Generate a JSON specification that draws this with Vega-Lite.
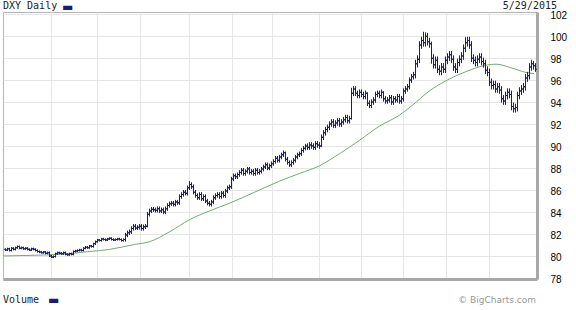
{
"$schema":"https://vega.github.io/schema/vega-lite/v6.json",
"width":534,"height":267,"autosize":"none",
"padding":{"left":3,"top":12,"right":39,"bottom":31},
"background":"white",
"config":{"view":{"stroke":"#b4b4b4","strokeWidth":1},
 "axisX":{"labels":false,"ticks":false,"title":null,"grid":true,"gridColor":"#e6e6e6","domainColor":"#a8a8a8","domainWidth":3,"tickCount":30},
 "axisY":{"ticks":false,"labelPadding":13,"labelFont":"Liberation Sans","labelFontSize":10,"labelColor":"#000","labelFlush":false,"labelOverlap":false,"labelBaseline":"middle","labelOffset":1.5,"grid":true,"gridColor":"#e6e6e6","domainColor":"#a8a8a8","domainWidth":3,"title":null,"tickCount":30}},
"datasets":{
"ohlc":[
{"d":0,"o":80.6,"h":80.7,"l":80.45,"c":80.55},{"d":1,"o":80.55,"h":80.75,"l":80.45,"c":80.65},{"d":2,"o":80.65,"h":80.75,"l":80.4,"c":80.5},{"d":3,"o":80.5,"h":80.8,"l":80.4,"c":80.7},{"d":4,"o":80.7,"h":80.8,"l":80.5,"c":80.6},{"d":5,"o":80.6,"h":80.85,"l":80.5,"c":80.75},{"d":6,"o":80.75,"h":80.95,"l":80.65,"c":80.85},{"d":7,"o":80.85,"h":80.95,"l":80.6,"c":80.7},{"d":8,"o":80.7,"h":80.85,"l":80.6,"c":80.75},{"d":9,"o":80.75,"h":80.85,"l":80.55,"c":80.65},
{"d":10,"o":80.65,"h":80.8,"l":80.55,"c":80.7},{"d":11,"o":80.7,"h":80.8,"l":80.5,"c":80.6},{"d":12,"o":80.6,"h":80.7,"l":80.45,"c":80.55},{"d":13,"o":80.55,"h":80.75,"l":80.45,"c":80.65},{"d":14,"o":80.65,"h":80.75,"l":80.5,"c":80.6},{"d":15,"o":80.6,"h":80.7,"l":80.4,"c":80.5},{"d":16,"o":80.5,"h":80.6,"l":80.3,"c":80.4},{"d":17,"o":80.4,"h":80.5,"l":80.25,"c":80.35},{"d":18,"o":80.35,"h":80.45,"l":80.2,"c":80.3},{"d":19,"o":80.3,"h":80.45,"l":80.2,"c":80.35},
{"d":20,"o":80.35,"h":80.45,"l":80.15,"c":80.25},{"d":21,"o":80.25,"h":80.4,"l":80.15,"c":80.3},{"d":22,"o":80.3,"h":80.4,"l":79.9,"c":80.0},{"d":23,"o":80.0,"h":80.1,"l":79.8,"c":79.9},{"d":24,"o":79.9,"h":80.05,"l":79.8,"c":79.95},{"d":25,"o":79.95,"h":80.3,"l":79.85,"c":80.2},{"d":26,"o":80.2,"h":80.4,"l":80.1,"c":80.3},{"d":27,"o":80.3,"h":80.4,"l":80.15,"c":80.25},{"d":28,"o":80.25,"h":80.35,"l":80.1,"c":80.2},{"d":29,"o":80.2,"h":80.4,"l":80.1,"c":80.3},
{"d":30,"o":80.3,"h":80.4,"l":80.05,"c":80.15},{"d":31,"o":80.15,"h":80.25,"l":80.0,"c":80.1},{"d":32,"o":80.1,"h":80.3,"l":80.0,"c":80.2},{"d":33,"o":80.2,"h":80.3,"l":80.05,"c":80.15},{"d":34,"o":80.15,"h":80.5,"l":80.05,"c":80.4},{"d":35,"o":80.4,"h":80.55,"l":80.3,"c":80.45},{"d":36,"o":80.45,"h":80.6,"l":80.35,"c":80.5},{"d":37,"o":80.5,"h":80.65,"l":80.4,"c":80.55},{"d":38,"o":80.55,"h":80.65,"l":80.4,"c":80.5},{"d":39,"o":80.5,"h":80.8,"l":80.4,"c":80.7},
{"d":40,"o":80.7,"h":80.9,"l":80.6,"c":80.8},{"d":41,"o":80.8,"h":80.9,"l":80.65,"c":80.75},{"d":42,"o":80.75,"h":81.0,"l":80.65,"c":80.9},{"d":43,"o":80.9,"h":81.0,"l":80.75,"c":80.85},{"d":44,"o":80.85,"h":81.2,"l":80.75,"c":81.1},{"d":45,"o":81.1,"h":81.4,"l":81.0,"c":81.3},{"d":46,"o":81.3,"h":81.55,"l":81.2,"c":81.45},{"d":47,"o":81.45,"h":81.55,"l":81.3,"c":81.4},{"d":48,"o":81.4,"h":81.65,"l":81.3,"c":81.55},{"d":49,"o":81.55,"h":81.65,"l":81.4,"c":81.5},
{"d":50,"o":81.5,"h":81.6,"l":81.35,"c":81.45},{"d":51,"o":81.45,"h":81.65,"l":81.35,"c":81.55},{"d":52,"o":81.55,"h":81.7,"l":81.45,"c":81.6},{"d":53,"o":81.6,"h":81.7,"l":81.4,"c":81.5},{"d":54,"o":81.5,"h":81.6,"l":81.35,"c":81.45},{"d":55,"o":81.45,"h":81.6,"l":81.35,"c":81.5},{"d":56,"o":81.5,"h":81.65,"l":81.4,"c":81.55},{"d":57,"o":81.55,"h":81.65,"l":81.4,"c":81.5},{"d":58,"o":81.5,"h":81.6,"l":81.3,"c":81.4},{"d":59,"o":81.4,"h":81.6,"l":81.3,"c":81.5},
{"d":60,"o":81.5,"h":82.1,"l":81.3,"c":81.9},{"d":61,"o":81.9,"h":82.3,"l":81.7,"c":82.1},{"d":62,"o":82.1,"h":82.4,"l":81.9,"c":82.2},{"d":63,"o":82.2,"h":82.7,"l":82.0,"c":82.5},{"d":64,"o":82.5,"h":82.9,"l":82.3,"c":82.7},{"d":65,"o":82.7,"h":82.9,"l":82.35,"c":82.55},{"d":66,"o":82.55,"h":82.8,"l":82.35,"c":82.6},{"d":67,"o":82.6,"h":82.9,"l":82.4,"c":82.7},{"d":68,"o":82.7,"h":82.9,"l":82.3,"c":82.5},{"d":69,"o":82.5,"h":82.85,"l":82.3,"c":82.65},
{"d":70,"o":82.65,"h":82.9,"l":82.45,"c":82.7},{"d":71,"o":82.7,"h":84.0,"l":82.6,"c":83.8},{"d":72,"o":83.8,"h":84.3,"l":83.6,"c":84.1},{"d":73,"o":84.1,"h":84.45,"l":83.9,"c":84.25},{"d":74,"o":84.25,"h":84.45,"l":84.0,"c":84.2},{"d":75,"o":84.2,"h":84.4,"l":83.95,"c":84.15},{"d":76,"o":84.15,"h":84.5,"l":83.95,"c":84.3},{"d":77,"o":84.3,"h":84.5,"l":83.9,"c":84.1},{"d":78,"o":84.1,"h":84.4,"l":83.9,"c":84.2},{"d":79,"o":84.2,"h":84.4,"l":83.8,"c":84.0},
{"d":80,"o":84.0,"h":84.5,"l":83.8,"c":84.3},{"d":81,"o":84.3,"h":84.8,"l":84.1,"c":84.6},{"d":82,"o":84.6,"h":84.95,"l":84.4,"c":84.75},{"d":83,"o":84.75,"h":85.0,"l":84.55,"c":84.8},{"d":84,"o":84.8,"h":85.0,"l":84.5,"c":84.7},{"d":85,"o":84.7,"h":85.1,"l":84.5,"c":84.9},{"d":86,"o":84.9,"h":85.1,"l":84.65,"c":84.85},{"d":87,"o":84.85,"h":85.6,"l":84.65,"c":85.4},{"d":88,"o":85.4,"h":85.8,"l":85.2,"c":85.6},{"d":89,"o":85.6,"h":86.0,"l":85.4,"c":85.8},
{"d":90,"o":85.8,"h":86.0,"l":85.5,"c":85.7},{"d":91,"o":85.7,"h":86.4,"l":85.5,"c":86.2},{"d":92,"o":86.2,"h":86.8,"l":86.0,"c":86.5},{"d":93,"o":86.5,"h":86.7,"l":86.1,"c":86.3},{"d":94,"o":86.3,"h":86.5,"l":85.6,"c":85.8},{"d":95,"o":85.8,"h":86.0,"l":85.3,"c":85.5},{"d":96,"o":85.5,"h":85.7,"l":85.1,"c":85.3},{"d":97,"o":85.3,"h":85.8,"l":85.1,"c":85.6},{"d":98,"o":85.6,"h":85.8,"l":85.0,"c":85.2},{"d":99,"o":85.2,"h":85.6,"l":85.0,"c":85.4},
{"d":100,"o":85.4,"h":85.6,"l":84.8,"c":85.0},{"d":101,"o":85.0,"h":85.2,"l":84.6,"c":84.8},{"d":102,"o":84.8,"h":85.0,"l":84.5,"c":84.7},{"d":103,"o":84.7,"h":85.1,"l":84.5,"c":84.9},{"d":104,"o":84.9,"h":85.5,"l":84.7,"c":85.3},{"d":105,"o":85.3,"h":85.7,"l":85.1,"c":85.5},{"d":106,"o":85.5,"h":85.8,"l":85.3,"c":85.6},{"d":107,"o":85.6,"h":85.8,"l":85.2,"c":85.4},{"d":108,"o":85.4,"h":85.9,"l":85.2,"c":85.7},{"d":109,"o":85.7,"h":85.9,"l":85.3,"c":85.5},
{"d":110,"o":85.5,"h":86.1,"l":85.3,"c":85.9},{"d":111,"o":85.9,"h":86.4,"l":85.7,"c":86.2},{"d":112,"o":86.2,"h":86.5,"l":86.0,"c":86.3},{"d":113,"o":86.3,"h":87.2,"l":86.1,"c":87.0},{"d":114,"o":87.0,"h":87.5,"l":86.8,"c":87.3},{"d":115,"o":87.3,"h":87.5,"l":87.0,"c":87.2},{"d":116,"o":87.2,"h":87.6,"l":87.0,"c":87.4},{"d":117,"o":87.4,"h":87.8,"l":87.2,"c":87.6},{"d":118,"o":87.6,"h":88.0,"l":87.4,"c":87.8},{"d":119,"o":87.8,"h":88.0,"l":87.3,"c":87.5},
{"d":120,"o":87.5,"h":87.9,"l":87.3,"c":87.7},{"d":121,"o":87.7,"h":88.1,"l":87.5,"c":87.9},{"d":122,"o":87.9,"h":88.1,"l":87.4,"c":87.6},{"d":123,"o":87.6,"h":87.9,"l":87.4,"c":87.7},{"d":124,"o":87.7,"h":87.9,"l":87.3,"c":87.5},{"d":125,"o":87.5,"h":88.0,"l":87.3,"c":87.8},{"d":126,"o":87.8,"h":88.0,"l":87.4,"c":87.6},{"d":127,"o":87.6,"h":87.9,"l":87.4,"c":87.7},{"d":128,"o":87.7,"h":88.1,"l":87.5,"c":87.9},{"d":129,"o":87.9,"h":88.3,"l":87.7,"c":88.1},
{"d":130,"o":88.1,"h":88.5,"l":87.9,"c":88.3},{"d":131,"o":88.3,"h":88.5,"l":87.8,"c":88.0},{"d":132,"o":88.0,"h":88.4,"l":87.8,"c":88.2},{"d":133,"o":88.2,"h":88.6,"l":88.0,"c":88.4},{"d":134,"o":88.4,"h":88.8,"l":88.2,"c":88.6},{"d":135,"o":88.6,"h":89.1,"l":88.4,"c":88.9},{"d":136,"o":88.9,"h":89.1,"l":88.5,"c":88.7},{"d":137,"o":88.7,"h":89.2,"l":88.5,"c":89.0},{"d":138,"o":89.0,"h":89.4,"l":88.8,"c":89.2},{"d":139,"o":89.2,"h":89.6,"l":89.0,"c":89.4},
{"d":140,"o":89.4,"h":89.5,"l":88.6,"c":88.8},{"d":141,"o":88.8,"h":89.0,"l":88.3,"c":88.5},{"d":142,"o":88.5,"h":88.7,"l":88.1,"c":88.3},{"d":143,"o":88.3,"h":88.7,"l":88.1,"c":88.5},{"d":144,"o":88.5,"h":88.9,"l":88.3,"c":88.7},{"d":145,"o":88.7,"h":89.2,"l":88.5,"c":89.0},{"d":146,"o":89.0,"h":89.4,"l":88.8,"c":89.2},{"d":147,"o":89.2,"h":89.5,"l":89.0,"c":89.3},{"d":148,"o":89.3,"h":89.8,"l":89.1,"c":89.6},{"d":149,"o":89.6,"h":90.0,"l":89.4,"c":89.8},
{"d":150,"o":89.8,"h":90.2,"l":89.6,"c":90.0},{"d":151,"o":90.0,"h":90.25,"l":89.65,"c":89.9},{"d":152,"o":89.9,"h":90.35,"l":89.65,"c":90.1},{"d":153,"o":90.1,"h":90.35,"l":89.75,"c":90.0},{"d":154,"o":90.0,"h":90.25,"l":89.65,"c":89.9},{"d":155,"o":89.9,"h":90.45,"l":89.65,"c":90.2},{"d":156,"o":90.2,"h":90.45,"l":89.85,"c":90.1},{"d":157,"o":90.1,"h":90.35,"l":89.75,"c":90.0},{"d":158,"o":90.0,"h":91.05,"l":89.9,"c":90.8},{"d":159,"o":90.8,"h":91.45,"l":90.55,"c":91.2},
{"d":160,"o":91.2,"h":91.75,"l":90.95,"c":91.5},{"d":161,"o":91.5,"h":91.95,"l":91.25,"c":91.7},{"d":162,"o":91.7,"h":92.25,"l":91.45,"c":92.0},{"d":163,"o":92.0,"h":92.45,"l":91.75,"c":92.2},{"d":164,"o":92.2,"h":92.45,"l":91.65,"c":91.9},{"d":165,"o":91.9,"h":92.35,"l":91.65,"c":92.1},{"d":166,"o":92.1,"h":92.55,"l":91.85,"c":92.3},{"d":167,"o":92.3,"h":92.55,"l":91.75,"c":92.0},{"d":168,"o":92.0,"h":92.45,"l":91.75,"c":92.2},{"d":169,"o":92.2,"h":92.65,"l":91.95,"c":92.4},
{"d":170,"o":92.4,"h":92.85,"l":92.15,"c":92.6},{"d":171,"o":92.6,"h":92.85,"l":92.05,"c":92.3},{"d":172,"o":92.3,"h":92.75,"l":92.05,"c":92.5},{"d":173,"o":92.5,"h":95.3,"l":92.4,"c":94.8},{"d":174,"o":94.8,"h":95.45,"l":94.55,"c":95.2},{"d":175,"o":95.2,"h":95.45,"l":94.55,"c":94.8},{"d":176,"o":94.8,"h":95.05,"l":94.35,"c":94.6},{"d":177,"o":94.6,"h":95.15,"l":94.35,"c":94.9},{"d":178,"o":94.9,"h":95.15,"l":94.45,"c":94.7},{"d":179,"o":94.7,"h":94.95,"l":94.25,"c":94.5},
{"d":180,"o":94.5,"h":95.05,"l":94.25,"c":94.8},{"d":181,"o":94.8,"h":94.9,"l":93.65,"c":93.9},{"d":182,"o":93.9,"h":94.15,"l":93.45,"c":93.7},{"d":183,"o":93.7,"h":94.25,"l":93.45,"c":94.0},{"d":184,"o":94.0,"h":94.45,"l":93.75,"c":94.2},{"d":185,"o":94.2,"h":94.95,"l":93.95,"c":94.7},{"d":186,"o":94.7,"h":95.05,"l":94.45,"c":94.8},{"d":187,"o":94.8,"h":95.05,"l":94.35,"c":94.6},{"d":188,"o":94.6,"h":95.15,"l":94.35,"c":94.9},{"d":189,"o":94.9,"h":95.0,"l":94.05,"c":94.3},
{"d":190,"o":94.3,"h":94.55,"l":93.85,"c":94.1},{"d":191,"o":94.1,"h":94.45,"l":93.85,"c":94.2},{"d":192,"o":94.2,"h":94.65,"l":93.95,"c":94.4},{"d":193,"o":94.4,"h":94.65,"l":93.75,"c":94.0},{"d":194,"o":94.0,"h":94.55,"l":93.75,"c":94.3},{"d":195,"o":94.3,"h":94.55,"l":93.95,"c":94.2},{"d":196,"o":94.2,"h":94.75,"l":93.95,"c":94.5},{"d":197,"o":94.5,"h":94.75,"l":93.85,"c":94.1},{"d":198,"o":94.1,"h":94.55,"l":93.85,"c":94.3},{"d":199,"o":94.3,"h":95.25,"l":94.05,"c":95.0},
{"d":200,"o":95.0,"h":95.45,"l":94.75,"c":95.2},{"d":201,"o":95.2,"h":95.65,"l":94.95,"c":95.4},{"d":202,"o":95.4,"h":96.25,"l":95.15,"c":96.0},{"d":203,"o":96.0,"h":96.55,"l":95.75,"c":96.3},{"d":204,"o":96.3,"h":96.75,"l":96.05,"c":96.5},{"d":205,"o":96.5,"h":97.85,"l":96.15,"c":97.5},{"d":206,"o":97.5,"h":98.25,"l":97.15,"c":97.9},{"d":207,"o":97.9,"h":99.55,"l":97.55,"c":99.2},{"d":208,"o":99.2,"h":99.95,"l":98.85,"c":99.6},{"d":209,"o":99.6,"h":100.4,"l":99.05,"c":99.4},
{"d":210,"o":99.4,"h":100.35,"l":99.05,"c":100.0},{"d":211,"o":100.0,"h":100.3,"l":99.15,"c":99.5},{"d":212,"o":99.5,"h":99.85,"l":98.95,"c":99.3},{"d":213,"o":99.3,"h":99.5,"l":97.5,"c":98.0},{"d":214,"o":98.0,"h":98.35,"l":97.05,"c":97.4},{"d":215,"o":97.4,"h":98.15,"l":97.05,"c":97.8},{"d":216,"o":97.8,"h":98.15,"l":96.65,"c":97.0},{"d":217,"o":97.0,"h":97.35,"l":96.45,"c":96.8},{"d":218,"o":96.8,"h":97.55,"l":96.45,"c":97.2},{"d":219,"o":97.2,"h":97.55,"l":96.65,"c":97.0},
{"d":220,"o":97.0,"h":98.15,"l":96.65,"c":97.8},{"d":221,"o":97.8,"h":98.45,"l":97.45,"c":98.1},{"d":222,"o":98.1,"h":98.65,"l":97.75,"c":98.3},{"d":223,"o":98.3,"h":98.65,"l":97.55,"c":97.9},{"d":224,"o":97.9,"h":98.25,"l":96.85,"c":97.2},{"d":225,"o":97.2,"h":97.55,"l":96.65,"c":97.0},{"d":226,"o":97.0,"h":97.95,"l":96.65,"c":97.6},{"d":227,"o":97.6,"h":98.25,"l":97.25,"c":97.9},{"d":228,"o":97.9,"h":98.55,"l":97.55,"c":98.2},{"d":229,"o":98.2,"h":99.25,"l":97.85,"c":98.9},
{"d":230,"o":98.9,"h":99.9,"l":98.55,"c":99.4},{"d":231,"o":99.4,"h":99.95,"l":99.05,"c":99.6},{"d":232,"o":99.6,"h":99.95,"l":98.85,"c":99.2},{"d":233,"o":99.2,"h":99.55,"l":97.65,"c":98.0},{"d":234,"o":98.0,"h":98.35,"l":97.45,"c":97.8},{"d":235,"o":97.8,"h":98.15,"l":97.25,"c":97.6},{"d":236,"o":97.6,"h":98.25,"l":97.25,"c":97.9},{"d":237,"o":97.9,"h":98.45,"l":97.55,"c":98.1},{"d":238,"o":98.1,"h":98.45,"l":97.35,"c":97.7},{"d":239,"o":97.7,"h":98.05,"l":97.15,"c":97.5},
{"d":240,"o":97.5,"h":97.85,"l":96.55,"c":96.9},{"d":241,"o":96.9,"h":97.25,"l":96.35,"c":96.7},{"d":242,"o":96.7,"h":97.05,"l":95.45,"c":95.8},{"d":243,"o":95.8,"h":96.15,"l":95.15,"c":95.5},{"d":244,"o":95.5,"h":95.95,"l":95.15,"c":95.6},{"d":245,"o":95.6,"h":95.95,"l":94.85,"c":95.2},{"d":246,"o":95.2,"h":95.75,"l":94.85,"c":95.4},{"d":247,"o":95.4,"h":95.75,"l":94.75,"c":95.1},{"d":248,"o":95.1,"h":95.45,"l":93.95,"c":94.3},{"d":249,"o":94.3,"h":94.65,"l":93.75,"c":94.1},
{"d":250,"o":94.1,"h":94.95,"l":93.75,"c":94.6},{"d":251,"o":94.6,"h":95.25,"l":94.25,"c":94.9},{"d":252,"o":94.9,"h":95.25,"l":94.35,"c":94.7},{"d":253,"o":94.7,"h":95.05,"l":93.25,"c":93.6},{"d":254,"o":93.6,"h":93.95,"l":93.05,"c":93.4},{"d":255,"o":93.4,"h":93.85,"l":93.05,"c":93.5},{"d":256,"o":93.5,"h":94.95,"l":93.15,"c":94.6},{"d":257,"o":94.6,"h":95.35,"l":94.25,"c":95.0},{"d":258,"o":95.0,"h":95.55,"l":94.65,"c":95.2},{"d":259,"o":95.2,"h":95.75,"l":94.85,"c":95.4},
{"d":260,"o":95.4,"h":96.55,"l":95.05,"c":96.2},{"d":261,"o":96.2,"h":96.75,"l":95.85,"c":96.4},{"d":262,"o":96.4,"h":97.55,"l":96.05,"c":97.2},{"d":263,"o":97.2,"h":97.85,"l":96.85,"c":97.5},{"d":264,"o":97.5,"h":97.75,"l":96.95,"c":97.3},{"d":265,"o":97.3,"h":97.55,"l":96.75,"c":97.0}
],
"ma":[
{"d":-1,"v":80.0},{"d":12.5,"v":80.05},{"d":27.4,"v":80.15},{"d":42.4,"v":80.4},{"d":52.4,"v":80.6},{"d":64.9,"v":81.05},{"d":72.4,"v":81.3},{"d":82.3,"v":82.2},{"d":92.3,"v":83.3},{"d":102.3,"v":84.1},{"d":112.3,"v":84.8},{"d":124.8,"v":85.8},{"d":137.2,"v":86.8},{"d":147.2,"v":87.5},{"d":157.2,"v":88.2},{"d":167.2,"v":89.3},{"d":177.1,"v":90.5},{"d":187.1,"v":91.8},{"d":197.1,"v":92.8},{"d":203.6,"v":93.7},{"d":212.1,"v":95.0},{"d":221.1,"v":96.0},{"d":229.5,"v":96.7},{"d":237,"v":97.2},{"d":245.5,"v":97.45},{"d":253.5,"v":97.1},{"d":260.5,"v":96.7},{"d":264.5,"v":96.6}
]
},
"layer":[
{"data":{"name":"ma"},
 "mark":{"type":"line","color":"#78a878","strokeWidth":1,"interpolate":"monotone"},
 "encoding":{
  "x":{"field":"d","type":"quantitative","scale":{"domain":[-1,266],"nice":false,"zero":false},
       "axis":{"values":[23,46,67.5,92,113.5,133.5,157,178,199,220.5,242],"tickCount":30}},
  "y":{"field":"v","type":"quantitative","scale":{"domain":[77.9,102.2],"nice":false,"zero":false},
       "axis":{"orient":"right","values":[78,80,82,84,86,88,90,92,94,96,98,100,102],"labelOverlap":false,"tickCount":30}}
 }},
{"data":{"name":"ohlc"},
 "mark":{"type":"rule","color":"#1b1b78","strokeWidth":1,"xOffset":0.5},
 "encoding":{"x":{"field":"d","type":"quantitative"},"y":{"field":"l","type":"quantitative"},"y2":{"field":"h"}}},
{"data":{"name":"ohlc"},
 "mark":{"type":"tick","orient":"horizontal","size":1,"thickness":1,"xOffset":-0.5,"color":"#1b1b78","opacity":1},
 "encoding":{"x":{"field":"d","type":"quantitative"},"y":{"field":"o","type":"quantitative"}}},
{"data":{"name":"ohlc"},
 "mark":{"type":"tick","orient":"horizontal","size":1,"thickness":1,"xOffset":1.5,"color":"#1b1b78","opacity":1},
 "encoding":{"x":{"field":"d","type":"quantitative"},"y":{"field":"c","type":"quantitative"}}},
{"data":{"values":[{"label":"DXY Daily"}]},
 "mark":{"type":"text","font":"DejaVu Sans Mono","fontSize":10,"align":"left","baseline":"alphabetic","dy":-5.2,"color":"#222"},
 "encoding":{"x":{"datum":-1},"y":{"datum":102},"text":{"field":"label"}}},
{"data":{"values":[{"label":"▬"}]},
 "mark":{"type":"text","font":"DejaVu Sans","fontSize":12,"align":"left","baseline":"middle","dx":59,"dy":-7.2,"color":"#1b1b78"},
 "encoding":{"x":{"datum":-1},"y":{"datum":102},"text":{"field":"label"}}},
{"data":{"values":[{"label":"5/29/2015"}]},
 "mark":{"type":"text","font":"DejaVu Sans Mono","fontSize":10,"align":"right","baseline":"alphabetic","dx":20,"dy":-5.2,"color":"#222"},
 "encoding":{"x":{"datum":266},"y":{"datum":102},"text":{"field":"label"}}},
{"data":{"values":[{"label":"Volume"}]},
 "mark":{"type":"text","font":"DejaVu Sans Mono","fontSize":10,"align":"left","baseline":"alphabetic","dy":25,"color":"#222"},
 "encoding":{"x":{"datum":-1},"y":{"datum":78},"text":{"field":"label"}}},
{"data":{"values":[{"label":"▬"}]},
 "mark":{"type":"text","font":"DejaVu Sans","fontSize":12,"align":"left","baseline":"middle","dx":45,"dy":22,"color":"#1b1b78"},
 "encoding":{"x":{"datum":-1},"y":{"datum":78},"text":{"field":"label"}}},
{"data":{"values":[{"label":"© BigCharts.com"}]},
 "mark":{"type":"text","font":"DejaVu Sans","fontSize":9,"align":"right","baseline":"alphabetic","dx":-1,"dy":25,"color":"#999"},
 "encoding":{"x":{"datum":266},"y":{"datum":78},"text":{"field":"label"}}}
]
}
